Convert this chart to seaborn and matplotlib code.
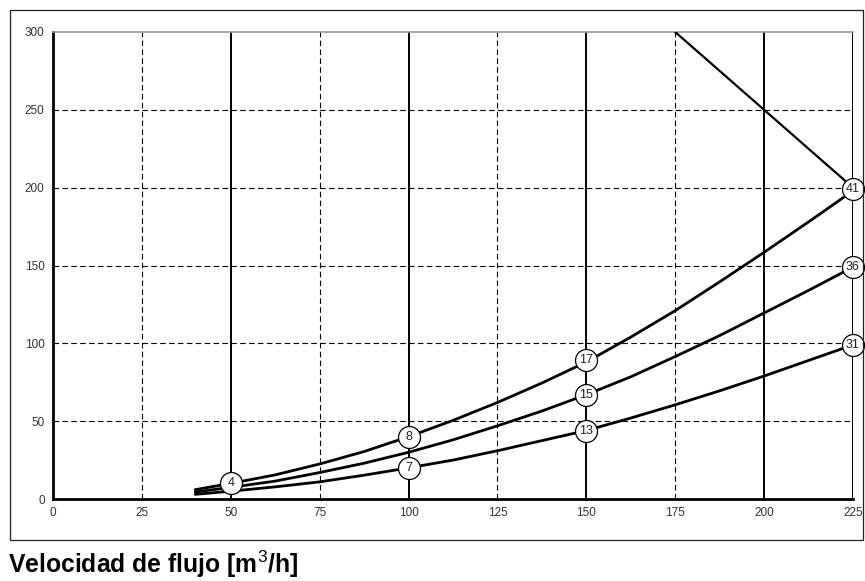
import pandas as pd
import numpy as np
import matplotlib.pyplot as plt
import matplotlib.patches as mpatches
import seaborn as sns

# ── data ──
flow      = [40, 50, 62.5, 75, 87.5, 100, 112.5, 125, 137.5, 150, 162.5, 175, 187.5, 200, 212.5, 225]
curve_hi  = [6, 10, 15.5, 22.5, 30.5, 40, 50.5, 62, 74.5, 88, 104, 121, 139.5, 158.5, 178, 198]
curve_mid = [4.5, 7.5, 11.5, 17, 23, 30, 38, 47, 56.5, 67, 78.5, 91.5, 105, 119.5, 134, 149]
curve_lo  = [3, 5, 7.8, 11, 15.3, 20, 25, 31, 37.5, 44, 52, 60.5, 69.5, 79, 89, 99]

diag_x = [175, 225]
diag_y = [300, 200]

label_x    = [50, 100, 100, 150, 150, 150, 225, 225, 225]
label_y    = [10, 40, 20, 89, 67, 44, 199, 149, 99]
label_text = ['4', '8', '7', '17', '15', '13', '41', '36', '31']

x_ticks = [0, 25, 50, 75, 100, 125, 150, 175, 200, 225]
y_ticks = [0, 50, 100, 150, 200, 250, 300]
solid_x = [50, 100, 150, 200, 225]
dashed_x = [25, 75, 125, 175]
dashed_y = [50, 100, 150, 200, 250]

n = len(flow)
df = pd.DataFrame({
    'flow': flow * 3,
    'value': curve_hi + curve_mid + curve_lo,
    'curve': ['hi'] * n + ['mid'] * n + ['lo'] * n,
})

sns.set_style("white")
plt.rcParams['font.family'] = ['Liberation Sans', 'DejaVu Sans']
plt.rcParams['mathtext.fontset'] = 'custom'
plt.rcParams['mathtext.rm'] = 'Liberation Sans'
plt.rcParams['mathtext.default'] = 'rm'

fig = plt.figure(figsize=(8.65, 5.81), dpi=100)
ax = fig.add_axes([53 / 865, 1 - 499 / 581, 800 / 865, 467 / 581])

# outer frame
fig.patches.append(mpatches.Rectangle((10 / 865, 1 - 540 / 581), 853 / 865, 530 / 581,
                                      transform=fig.transFigure, fill=False,
                                      edgecolor='#222222', linewidth=0.9))

for x in dashed_x:
    ax.axvline(x, color='black', lw=0.8, ls=(0, (5, 3)), zorder=1)
for y in dashed_y:
    ax.axhline(y, color='black', lw=0.8, ls=(0, (5, 3)), zorder=1)
for x in solid_x:
    ax.axvline(x, color='black', lw=1.4, zorder=1.5)

sns.lineplot(data=df, x='flow', y='value', units='curve', estimator=None,
             color='black', lw=2, ax=ax, zorder=3)
ax.plot(diag_x, diag_y, color='black', lw=1.6, zorder=3)

ax.scatter(label_x, label_y, s=250, facecolor='white', edgecolor='black',
           linewidth=0.9, zorder=4, clip_on=False)
for x, y, t in zip(label_x, label_y, label_text):
    ax.text(x, y, t, ha='center', va='center', fontsize=9, color='#222222',
            zorder=5, clip_on=False)

ax.set_xlim(0, 225)
ax.set_ylim(0, 300)
ax.set_xticks(x_ticks)
ax.set_yticks(y_ticks)
ax.set_xlabel('')
ax.set_ylabel('')
ax.tick_params(axis='both', labelsize=8.5, labelcolor='#333333', color='black',
               length=3, width=1.2, direction='out', pad=3)
for side in ['left', 'bottom']:
    ax.spines[side].set_color('black')
    ax.spines[side].set_linewidth(2)
ax.spines['top'].set_color('#999999')
ax.spines['top'].set_linewidth(1.2)
ax.spines['right'].set_visible(False)

fig.text(8 / 865, 1 - 564 / 581, r'Velocidad de flujo [m$^{3}$/h]', fontsize=17.8,
         fontweight='bold', color='black', ha='left', va='center')

plt.savefig('out.png', dpi=100)
